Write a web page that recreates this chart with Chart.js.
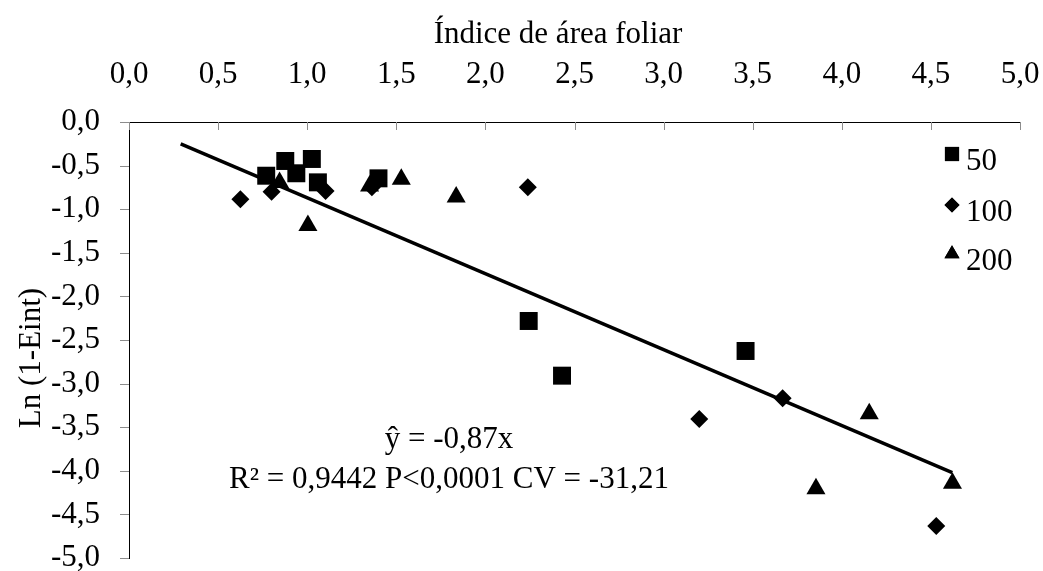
<!DOCTYPE html>
<html lang="pt">
<head>
<meta charset="utf-8">
<title>Ln (1-Eint) x Índice de área foliar</title>
<script src="https://cdn.jsdelivr.net/npm/chart.js@4.4.1/dist/chart.umd.min.js"></script>
<style>
    html, body { margin: 0; padding: 0; background: #fff; }
    canvas { display: block; }
</style>
</head>
<body>
<canvas id="grafico" width="1043" height="571"></canvas>
<script>
// Dados (IAF x Ln(1-Eint))
const seriesNames = ['50', '100', '200'];

const x50 = [0.77, 0.877, 1.026, 0.939, 1.06, 1.40, 2.243, 2.43, 3.46];
const y50 = [-0.616, -0.447, -0.424, -0.588, -0.692, -0.646, -2.282, -2.909, -2.626];

const x100 = [0.625, 0.80, 1.103, 1.363, 2.238, 3.20, 3.668, 4.53];
const y100 = [-0.886, -0.799, -0.791, -0.749, -0.749, -3.406, -3.169, -4.633];

const x200 = [0.845, 1.004, 1.35, 1.528, 1.836, 4.154, 3.855, 4.621];
const y200 = [-0.695, -1.188, -0.734, -0.657, -0.859, -3.347, -4.206, -4.143];

// Reta ajustada ŷ = -0,87x
const trendX = [0.29, 4.62];
const trendY = [-0.25, -4.02];

const xTickValues = [0, 0.5, 1, 1.5, 2, 2.5, 3, 3.5, 4, 4.5, 5];
const yTickValues = [-5, -4.5, -4, -3.5, -3, -2.5, -2, -1.5, -1, -0.5, 0];

const xTitle = 'Índice de área foliar';
const yTitle = 'Ln (1-Eint)';
const eqLine1 = 'ŷ = -0,87x';
const eqLine2 = 'R² = 0,9442 P<0,0001 CV = -31,21';

const FONT = '"Liberation Serif", "Times New Roman", serif';

const toPoints = (xs, ys) => xs.map((v, i) => ({ x: v, y: ys[i] }));
const fmt = v => (Math.abs(v) < 1e-9 ? 0 : v).toFixed(1).replace('.', ',');

// Marcas dos eixos, títulos, equação e legenda
const extras = {
    id: 'extras',
    afterDraw(chart) {
        const { ctx, chartArea: a, scales: { x, y } } = chart;
        ctx.save();

        ctx.strokeStyle = '#8c8c8c';
        ctx.lineWidth = 1;
        xTickValues.forEach(v => {
            const px = Math.round(x.getPixelForValue(v)) + 0.5;
            ctx.beginPath();
            ctx.moveTo(px, a.top);
            ctx.lineTo(px, a.top + 8);
            ctx.stroke();
        });
        yTickValues.forEach(v => {
            const py = Math.round(y.getPixelForValue(v)) + 0.5;
            ctx.beginPath();
            ctx.moveTo(a.left - 9, py);
            ctx.lineTo(a.left, py);
            ctx.stroke();
        });

        ctx.fillStyle = '#000';
        ctx.font = '31px ' + FONT;
        ctx.textAlign = 'center';
        ctx.textBaseline = 'middle';
        ctx.fillText(xTitle, 558, 35);

        ctx.save();
        ctx.translate(32, 358);
        ctx.rotate(-Math.PI / 2);
        ctx.fillText(yTitle, 0, 0);
        ctx.restore();

        ctx.fillText(eqLine1, 449, 440);
        ctx.fillText(eqLine2, 449, 480);

        // legenda
        const legendMarks = [
            { style: 'rect', radius: 10, y: 154 },
            { style: 'rectRot', radius: 7.5, y: 205 },
            { style: 'triangle', radius: 8.7, y: 254 }
        ];
        ctx.textAlign = 'left';
        legendMarks.forEach((m, i) => {
            Chart.helpers.drawPoint(ctx, {
                pointStyle: m.style, radius: m.radius, rotation: 0, borderWidth: 0
            }, 952, m.y);
            ctx.fillStyle = '#000';
            ctx.fill();
            ctx.fillText(seriesNames[i], 966, m.y + 7.5);
        });

        ctx.restore();
    }
};

new Chart(document.getElementById('grafico'), {
    type: 'scatter',
    data: {
        datasets: [
            { label: seriesNames[0], data: toPoints(x50, y50), pointStyle: 'rect', pointRadius: 12.7,
              backgroundColor: '#000', borderColor: '#000', borderWidth: 0, order: 2 },
            { label: seriesNames[1], data: toPoints(x100, y100), pointStyle: 'rectRot', pointRadius: 9,
              backgroundColor: '#000', borderColor: '#000', borderWidth: 0, order: 2 },
            { label: seriesNames[2], data: toPoints(x200, y200), pointStyle: 'triangle', pointRadius: 11,
              backgroundColor: '#000', borderColor: '#000', borderWidth: 0, order: 2 },
            { label: 'ajuste', data: toPoints(trendX, trendY), showLine: true, pointRadius: 0,
              borderColor: '#000', borderWidth: 3.5, fill: false, order: 1 }
        ]
    },
    options: {
        responsive: false,
        animation: false,
        devicePixelRatio: 1,
        layout: { autoPadding: false, padding: { left: 0, top: 0, right: 23, bottom: 13 } },
        plugins: {
            legend: { display: false },
            tooltip: { enabled: false }
        },
        scales: {
            x: {
                type: 'linear',
                position: 'top',
                min: 0,
                max: 5,
                afterBuildTicks: s => { s.ticks = xTickValues.map(v => ({ value: v })); },
                afterFit: s => { s.height = 122; },
                ticks: { callback: v => fmt(v), color: '#000', padding: 0,
                         font: { family: FONT, size: 31, lineHeight: 0.8 } },
                grid: { display: false, drawTicks: true, tickLength: 35 },
                border: { display: true, color: '#000', width: 1 }
            },
            y: {
                type: 'linear',
                min: -5,
                max: 0,
                afterBuildTicks: s => { s.ticks = yTickValues.map(v => ({ value: v })); },
                afterFit: s => { s.width = 129; },
                ticks: { callback: v => fmt(v), color: '#000', padding: 0,
                         font: { family: FONT, size: 31, lineHeight: 0.8 } },
                grid: { display: false, drawTicks: true, tickLength: 29 },
                border: { display: true, color: '#000', width: 1 }
            }
        }
    },
    plugins: [extras]
});
</script>
</body>
</html>
